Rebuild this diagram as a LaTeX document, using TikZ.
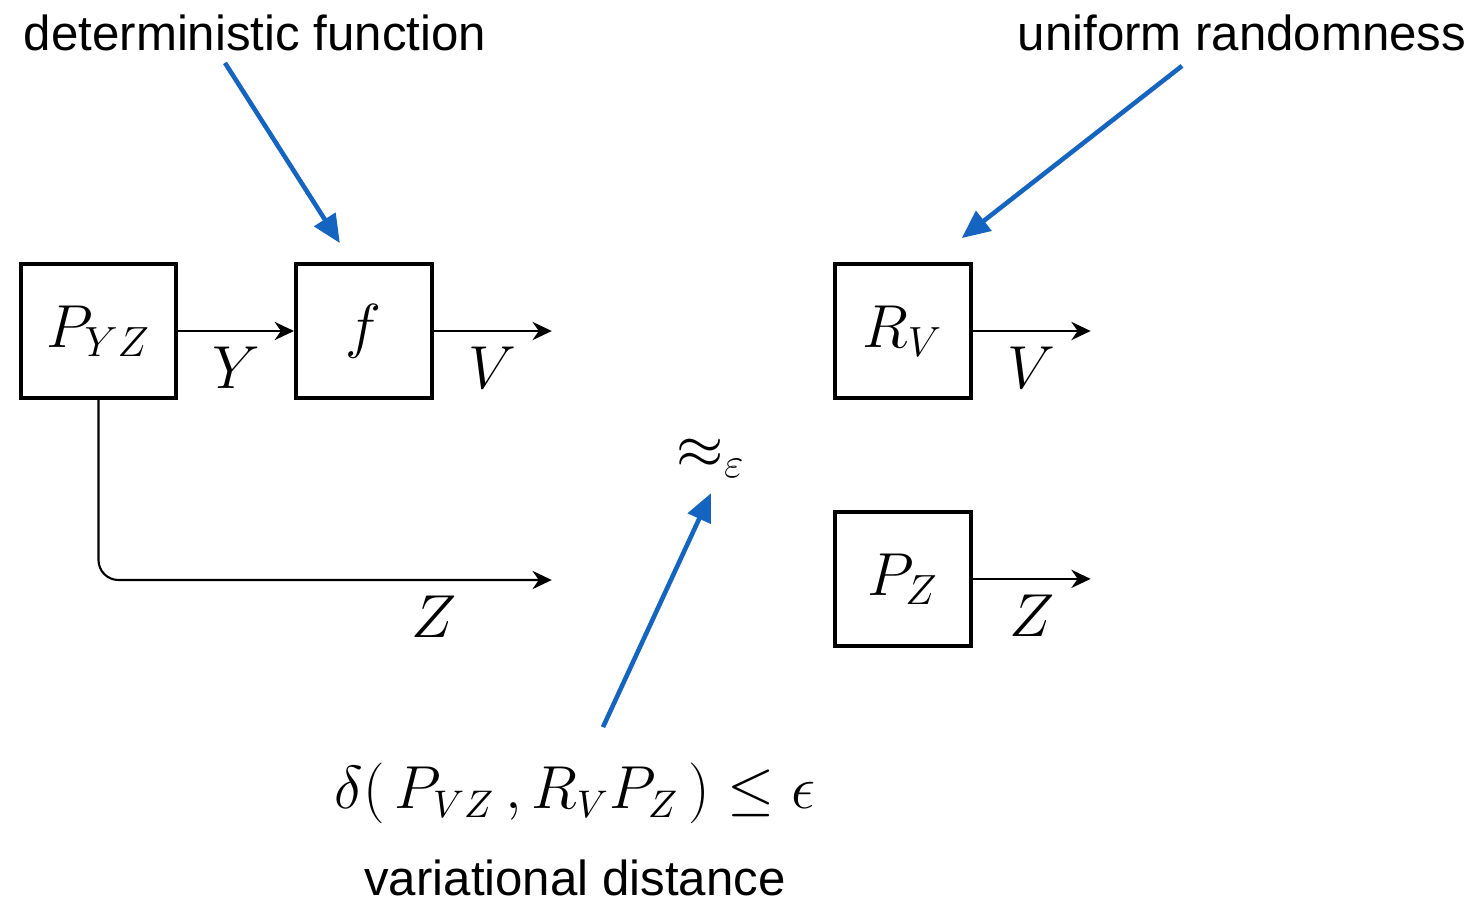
\documentclass[tikz,border=0pt]{standalone}
\usepackage{fontspec}
\newfontfamily\labelfont{Liberation Sans}
\usetikzlibrary{arrows.meta, positioning, calc}
\usepackage{amsmath, amssymb}
\usepackage{xcolor}
\definecolor{hint}{HTML}{1565C0}

\begin{document}
\begin{tikzpicture}[
    >={Stealth[length=5.5pt, width=5.2pt, inset=1.8pt]},
    block/.style={draw, line width=1.1pt, minimum width=1.36cm, minimum height=1.34cm,
                  inner sep=0pt, font=\fontsize{17.5}{20}\selectfont},
    arrow/.style={->, line width=0.6pt},
    sig/.style={font=\fontsize{17.5}{20}\selectfont, yshift=-1pt},
    note/.style={font=\fontsize{14}{17}\selectfont\labelfont, anchor=base},
    hintarrow/.style={-{Triangle[length=8pt, width=7pt]}, line width=1.3pt, color=hint},
]
    \useasboundingbox (0,0) rectangle (14.74,-9);

    % Left: real source
    \node[block, minimum width=1.55cm] (pyz) at (0.985,-3.31) {$P_{YZ}$};
    \node[block, right=1.16cm of pyz] (f) {$f$};
    \coordinate[right=1.18cm of f.east] (vout);
    \coordinate (zout) at (vout |- 0,-5.80);

    % Right: ideal source
    \node[block, right=3.99cm of f] (rv) {$R_V$};
    \node[block, below=1.10cm of rv] (pz) {$P_Z$};
    \coordinate[right=1.18cm of rv.east] (rvout);
    \coordinate[right=1.18cm of pz.east] (pzout);

    % Arrows
    \draw[arrow] (pyz) -- node[sig, below] {$Y$} (f);
    \draw[arrow] (f) -- node[sig, below] {$V$} (vout);
    \draw[arrow, rounded corners=0.2cm] (pyz.south) |- node[sig, below, pos=0.87] {$Z$} (zout);
    \draw[arrow] (rv) -- node[sig, below] {$V$} (rvout);
    \draw[arrow] (pz) -- node[sig, below] {$Z$} (pzout);

    % Closeness
    \node[sig] (approx) at (7.11,-4.55) {$\approx_\varepsilon$};
    \node[font=\fontsize{16}{19}\selectfont, anchor=base] (dist) at (5.75,-8.08)
        {$\delta(\,P_{VZ}\,,R_VP_Z\,)\le\epsilon$};

    % Annotations
    \node[note] (det) at (2.55,-0.50) {deterministic function};
    \node[note] (uni) at (12.42,-0.50) {uniform randomness};
    \node[note] (var) at (5.75,-8.95) {variational distance};

    \draw[hintarrow] ($(det.south)+(-0.30,0)$) -- ($(f.north)+(-0.24,0.19)$);
    \draw[hintarrow] ($(uni.south)+(-0.60,-0.03)$) -- ($(rv.north)+(0.59,0.24)$);
    \draw[hintarrow] ($(dist.north)+(0.28,0.23)$) -- ($(approx.south)+(0,-0.03)$);
\end{tikzpicture}
\end{document}
